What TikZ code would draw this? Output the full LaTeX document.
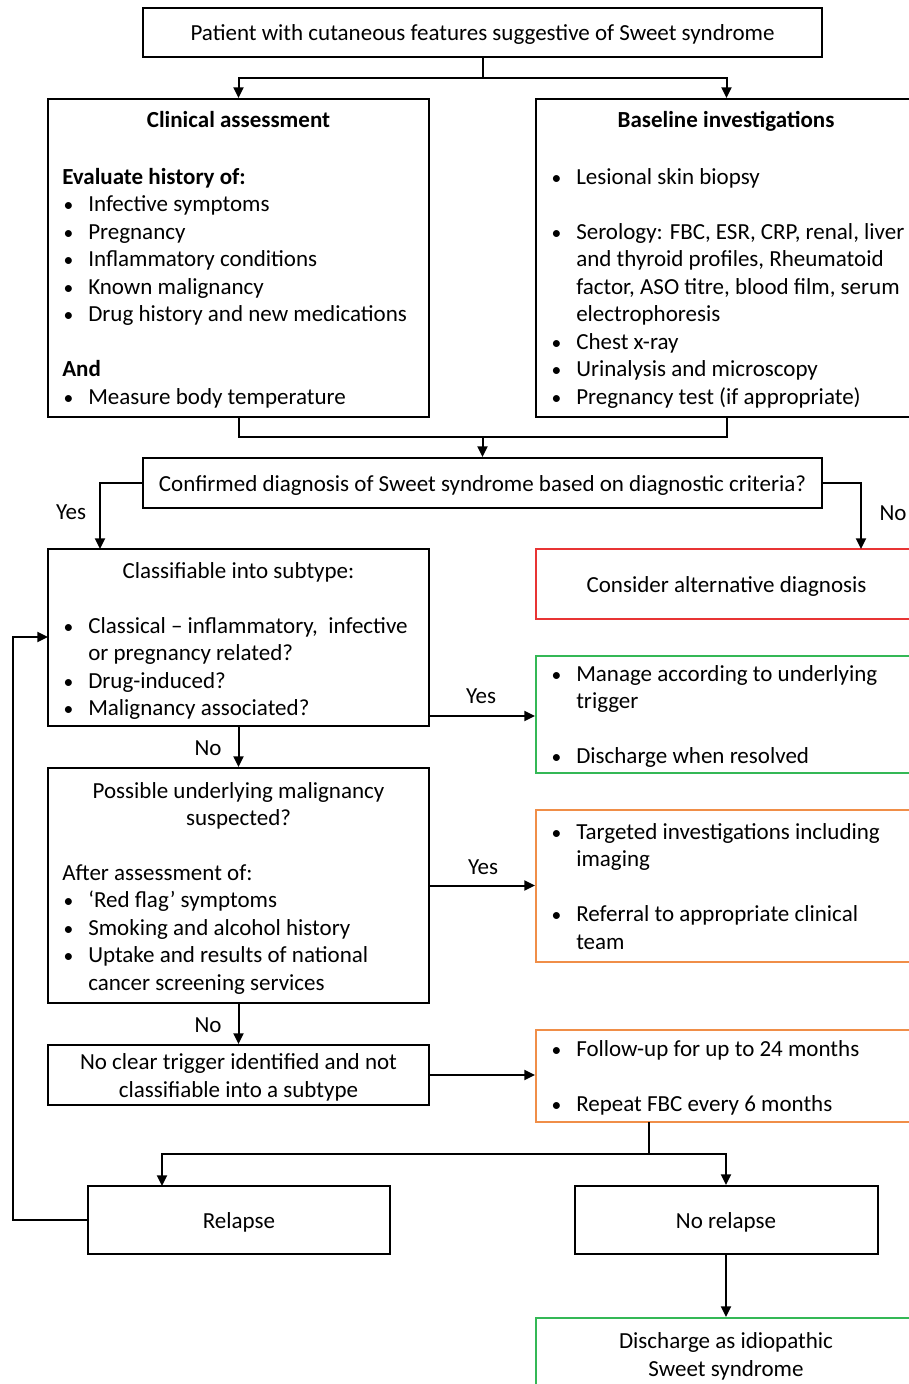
\documentclass[tikz,border=0pt]{standalone}
\usepackage{fontspec}
\setmainfont{Carlito}
\usetikzlibrary{arrows.meta,calc}
\definecolor{boxred}{RGB}{232,52,52}
\definecolor{boxgreen}{RGB}{52,184,86}
\definecolor{boxorange}{RGB}{240,142,72}
\newcommand\bl[1]{\makebox[19.5pt][l]{\hspace*{1pt}\scalebox{0.85}{•}}#1}
\newcommand\cn[1]{\hspace*{19.5pt}#1}
\newcommand\fl{\vrule height 15pt depth 0pt width 0pt}
\begin{document}
\begin{tikzpicture}[x=0.75pt,y=-0.75pt,
  every node/.style={font=\fontsize{17.25pt}{20.6pt}\selectfont},
  box/.style 2 args={draw=black,line width=1.5pt,minimum width=#1*0.75pt,minimum height=#2*0.75pt,inner sep=0pt},
  blk/.style={anchor=north west,inner sep=0pt,align=left},
  lbl/.style={inner sep=0pt,align=center,yshift=-1.6pt},
  ttl/.style={inner sep=0pt,anchor=base,font=\fontsize{17.25pt}{20.6pt}\selectfont\bfseries},
  arr/.style={line width=1.5pt,-{Triangle[length=8pt,width=7.5pt]}},
  ln/.style={line width=1.5pt}]
\useasboundingbox (0,0) rectangle (908,1384);
% boxes
\node[box={679}{49}] (top) at (482.5,32.5) {};
\node[box={381}{318}] (clin) at (238.5,258) {};
\node[box={381}{318}] (base) at (726.5,258) {};
\node[box={679}{50}] (conf) at (482.5,483) {};
\node[box={381}{177}] (classif) at (238.5,637.5) {};
\node[box={381}{70},draw=boxred] (consider) at (726.5,584) {};
\node[box={381}{117},draw=boxgreen] (manage) at (726.5,714.5) {};
\node[box={381}{235}] (possible) at (238.5,885.5) {};
\node[box={381}{152},draw=boxorange] (target) at (726.5,886) {};
\node[box={381}{60}] (noclear) at (238.5,1075) {};
\node[box={381}{92},draw=boxorange] (follow) at (726.5,1076) {};
\node[box={302}{68}] (relapse) at (239,1220) {};
\node[box={303}{68}] (norelapse) at (726,1220) {};
\node[box={381}{74},draw=boxgreen] (discharge) at (726,1355) {};
% centred texts
\node[lbl] (toptext) at (top) {Patient with cutaneous features suggestive of Sweet syndrome};
\node[lbl] (conftext) at (conf) {Confirmed diagnosis of Sweet syndrome based on diagnostic criteria?};
\node[lbl] (considertext) at (consider) {Consider alternative diagnosis};
\node[lbl] (nocleartext) at (noclear) {No clear trigger identified and not\\classifiable into a subtype};
\node[lbl] (relapsetext) at (relapse) {Relapse};
\node[lbl] (norelapsetext) at (norelapse) {No relapse};
\node[lbl] (dischargetext) at (726,1354) {Discharge as idiopathic\\Sweet syndrome};
% texts
\node[ttl] (clintitle) at (238.5,128) {Clinical assessment};
\node[blk] (clintext) at (62,164) {\fl\textbf{Evaluate history of:}\\
  \bl{Infective symptoms}\\
  \bl{Pregnancy}\\
  \bl{Inflammatory conditions}\\
  \bl{Known malignancy}\\
  \bl{Drug history and new medications}\\[20.6pt]
  \textbf{And}\\
  \bl{Measure body temperature}};
\node[ttl] (basetitle) at (726,128) {Baseline investigations};
\node[blk] (basetext) at (550,164) {\fl\bl{Lesional skin biopsy}\\[20.6pt]
  \bl{Serology: FBC, ESR, CRP, renal, liver}\\
  \cn{and thyroid profiles, Rheumatoid}\\
  \cn{factor, ASO titre, blood film, serum}\\
  \cn{electrophoresis}\\
  \bl{Chest x-ray}\\
  \bl{Urinalysis and microscopy}\\
  \bl{Pregnancy test (if appropriate)}};
\node[lbl] (classtitle) at (238.5,570) {Classifiable into subtype:};
\node[blk] (classtext) at (62,613) {\fl\bl{Classical – inflammatory,\ \ infective}\\
  \cn{or pregnancy related?}\\
  \bl{Drug-induced?}\\
  \bl{Malignancy associated?}};
\node[blk] (managetext) at (550,661) {\fl\bl{Manage according to underlying}\\
  \cn{trigger}\\[20.6pt]
  \bl{Discharge when resolved}};
\node[lbl] (posstitle) at (238.5,803.5) {Possible underlying malignancy\\suspected?};
\node[blk] (posstext) at (62,860) {\fl After assessment of:\\
  \bl{‘Red flag’ symptoms}\\
  \bl{Smoking and alcohol history}\\
  \bl{Uptake and results of national}\\
  \cn{cancer screening services}};
\node[blk] (targettext) at (550,819) {\fl\bl{Targeted investigations including}\\
  \cn{imaging}\\[20.6pt]
  \bl{Referral to appropriate clinical}\\
  \cn{team}};
\node[blk] (followtext) at (550,1036) {\fl\bl{Follow-up for up to 24 months}\\[20.6pt]
  \bl{Repeat FBC every 6 months}};
% labels
\node[lbl] (yes1) at (71,510) {Yes};
\node[lbl] (no1) at (893,511) {No};
\node[lbl] (yes2) at (481,694) {Yes};
\node[lbl] (no2) at (208,746) {No};
\node[lbl] (yes3) at (483,865) {Yes};
\node[lbl] (no3) at (208,1023) {No};
% junction coordinates
\coordinate (j1) at (482.5,78);
\coordinate (j2) at (482.5,437);
\coordinate (cY) at (100,549);
\coordinate (cN) at (861,549);
\coordinate (fb) at (649,1122);
\coordinate (j3) at (649,1154);
\coordinate (rtop) at (162,1186);
\coordinate (lp) at (13,1220);
\coordinate (cin) at (48,637);
% connectors
\draw[ln] (top.south) -- (j1);
\draw[arr] (j1) -| (clin.north);
\draw[arr] (j1) -| (base.north);
\draw[ln] (clin.south) |- (j2);
\draw[ln] (base.south) |- (j2);
\draw[arr] (j2) -- (conf.north);
\draw[arr] (conf.west) -| (cY);
\draw[arr] (conf.east) -| (cN);
\draw[arr] ($(classif.south east)+(0,-11)$) coordinate (a1) -- (manage.west |- a1);
\draw[arr] (classif.south) -- (possible.north);
\draw[arr] (possible.east) -- (target.west |- possible.east);
\draw[arr] (possible.south) -- (noclear.north);
\draw[arr] (noclear.east) -- (follow.west |- noclear.east);
\draw[ln] (fb) -- (j3);
\draw[arr] (j3) -| (rtop);
\draw[arr] (j3) -| (norelapse.north);
\draw[arr] (norelapse.south) -- (discharge.north);
\draw[arr] (relapse.west) -- (lp) |- (cin);
\end{tikzpicture}
\end{document}
